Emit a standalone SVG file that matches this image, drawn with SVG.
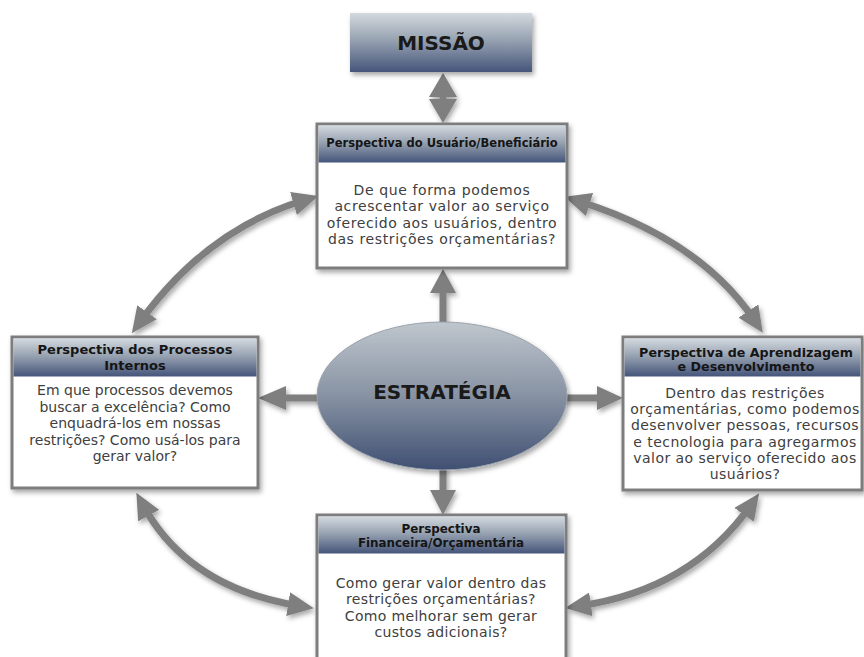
<svg xmlns="http://www.w3.org/2000/svg" width="864" height="657" viewBox="0 0 864 657">
<defs>
  <linearGradient id="gHead" x1="0" y1="0" x2="0" y2="1">
    <stop offset="0" stop-color="#d3d9df"/>
    <stop offset="0.45" stop-color="#98a3b2"/>
    <stop offset="1" stop-color="#45557a"/>
  </linearGradient>
  <linearGradient id="gEll" x1="0" y1="0" x2="0" y2="1">
    <stop offset="0" stop-color="#bfc6cd"/>
    <stop offset="0.5" stop-color="#8792a3"/>
    <stop offset="1" stop-color="#3f4f72"/>
  </linearGradient>
  <filter id="sh" x="-10%" y="-10%" width="125%" height="130%">
    <feDropShadow dx="2" dy="3" stdDeviation="2.5" flood-color="#000" flood-opacity="0.35"/>
  </filter>
  <marker id="ah" viewBox="0 0 26 24" markerWidth="26" markerHeight="24" refX="12" refY="12" markerUnits="userSpaceOnUse" orient="auto-start-reverse">
    <path d="M0,0 L26,12 L0,24 z" fill="#7f7f7f"/>
  </marker>
</defs>
<style>
  .box { fill: #ffffff; stroke: #7d7d7d; stroke-width: 3; }
  .hdr { fill: url(#gHead); }
  .ht { font-family: "DejaVu Sans", Verdana, sans-serif; font-weight: bold; fill: #151515; text-anchor: middle; }
  .bt { font-family: "DejaVu Sans", Verdana, sans-serif; fill: #404040; text-anchor: middle; font-size: 14px; }
  .big { font-family: "DejaVu Sans", Verdana, sans-serif; font-weight: bold; fill: #1a1a1a; text-anchor: middle; font-size: 20px; }
  .arr { fill: #7f7f7f; }
  .curve { fill: none; stroke: #7f7f7f; stroke-width: 7; marker-start: url(#ah); marker-end: url(#ah); }
</style>
<rect width="864" height="657" fill="#ffffff"/>

<g id="connectors" filter="url(#sh)">
  <polygon class="arr" points="443,73 457,97 429,97"/>
  <rect class="arr" x="439.5" y="95" width="7" height="6"/>
  <polygon class="arr" points="429,99 457,99 443,123"/>
  <polygon class="arr" points="443,269 456,293 430,293"/>
  <rect class="arr" x="439.5" y="291" width="7" height="34"/>
  <polygon class="arr" points="258,398 286,386 286,410"/>
  <rect class="arr" x="284" y="394.5" width="37" height="7"/>
  <polygon class="arr" points="623,398 597,386 597,410"/>
  <rect class="arr" x="563" y="394.5" width="36" height="7"/>
  <polygon class="arr" points="443,515 430,490 456,490"/>
  <rect class="arr" x="439.5" y="467" width="7" height="25"/>
  <path class="curve" d="M305,200 Q207,229 140,322"/>
  <path class="curve" d="M578,201 Q700,239 755,321"/>
  <path class="curve" d="M143,505 Q188,588 300,606"/>
  <path class="curve" d="M751,505 Q691,590 579,606"/>
</g>

<g id="missao">
  <rect x="350" y="13" width="182" height="59" fill="url(#gHead)" filter="url(#sh)"/>
  <text class="big" x="441" y="50">MISSÃO</text>
</g>

<g id="usuario">
  <rect class="box" x="317" y="124" width="250" height="144" filter="url(#sh)"/>
  <rect class="hdr" x="318.5" y="125.5" width="247" height="37"/>
  <text class="ht" x="442" y="147" font-size="11.5">Perspectiva do Usuário/Beneficiário</text>
  <g class="bt" letter-spacing="0.6">
    <text class="bt" x="442" y="195">De que forma podemos</text>
    <text class="bt" x="442" y="211.3">acrescentar valor ao serviço</text>
    <text class="bt" x="442" y="227.6">oferecido aos usuários, dentro</text>
    <text class="bt" x="442" y="243.9">das restrições orçamentárias?</text>
  </g>
</g>

<g id="processos">
  <rect class="box" x="12" y="337" width="246" height="151" filter="url(#sh)"/>
  <rect class="hdr" x="13.5" y="338.5" width="243" height="38"/>
  <text class="ht" x="135" y="354.4" font-size="13">Perspectiva dos Processos</text>
  <text class="ht" x="135" y="369.6" font-size="13">Internos</text>
  <text class="bt" x="135" y="395">Em que processos devemos</text>
  <text class="bt" x="135" y="411.5">buscar a excelência? Como</text>
  <text class="bt" x="135" y="428">enquadrá-los em nossas</text>
  <text class="bt" x="135" y="444.5">restrições? Como usá-los para</text>
  <text class="bt" x="135" y="461">gerar valor?</text>
</g>

<g id="aprendizagem">
  <rect class="box" x="623" y="337" width="239" height="153" filter="url(#sh)"/>
  <rect class="hdr" x="624.5" y="338.5" width="236" height="38"/>
  <text class="ht" x="746" y="356.6" font-size="12.7">Perspectiva de Aprendizagem</text>
  <text class="ht" x="746" y="371.4" font-size="12.7">e Desenvolvimento</text>
  <g letter-spacing="0.45">
    <text class="bt" x="745" y="397.8">Dentro das restrições</text>
    <text class="bt" x="745" y="414.1">orçamentárias, como podemos</text>
    <text class="bt" x="745" y="430.4">desenvolver pessoas, recursos</text>
    <text class="bt" x="745" y="446.7">e tecnologia para agregarmos</text>
    <text class="bt" x="745" y="463">valor ao serviço oferecido aos</text>
    <text class="bt" x="745" y="479.3">usuários?</text>
  </g>
</g>

<g id="financeira">
  <rect class="box" x="317" y="515" width="249" height="160" filter="url(#sh)"/>
  <rect class="hdr" x="318.5" y="516.5" width="246" height="37"/>
  <text class="ht" x="441" y="533" font-size="11.9">Perspectiva</text>
  <text class="ht" x="441" y="547" font-size="11.9">Financeira/Orçamentária</text>
  <g letter-spacing="0.33">
    <text class="bt" x="441" y="588">Como gerar valor dentro das</text>
    <text class="bt" x="441" y="604.3">restrições orçamentárias?</text>
    <text class="bt" x="441" y="620.6">Como melhorar sem gerar</text>
    <text class="bt" x="441" y="636.9">custos adicionais?</text>
  </g>
</g>

<g id="estrategia">
  <ellipse cx="442" cy="396" rx="125" ry="74" fill="url(#gEll)" stroke="#9aa2ac" stroke-width="1" filter="url(#sh)"/>
  <text class="big" x="442" y="399">ESTRATÉGIA</text>
</g>
</svg>
